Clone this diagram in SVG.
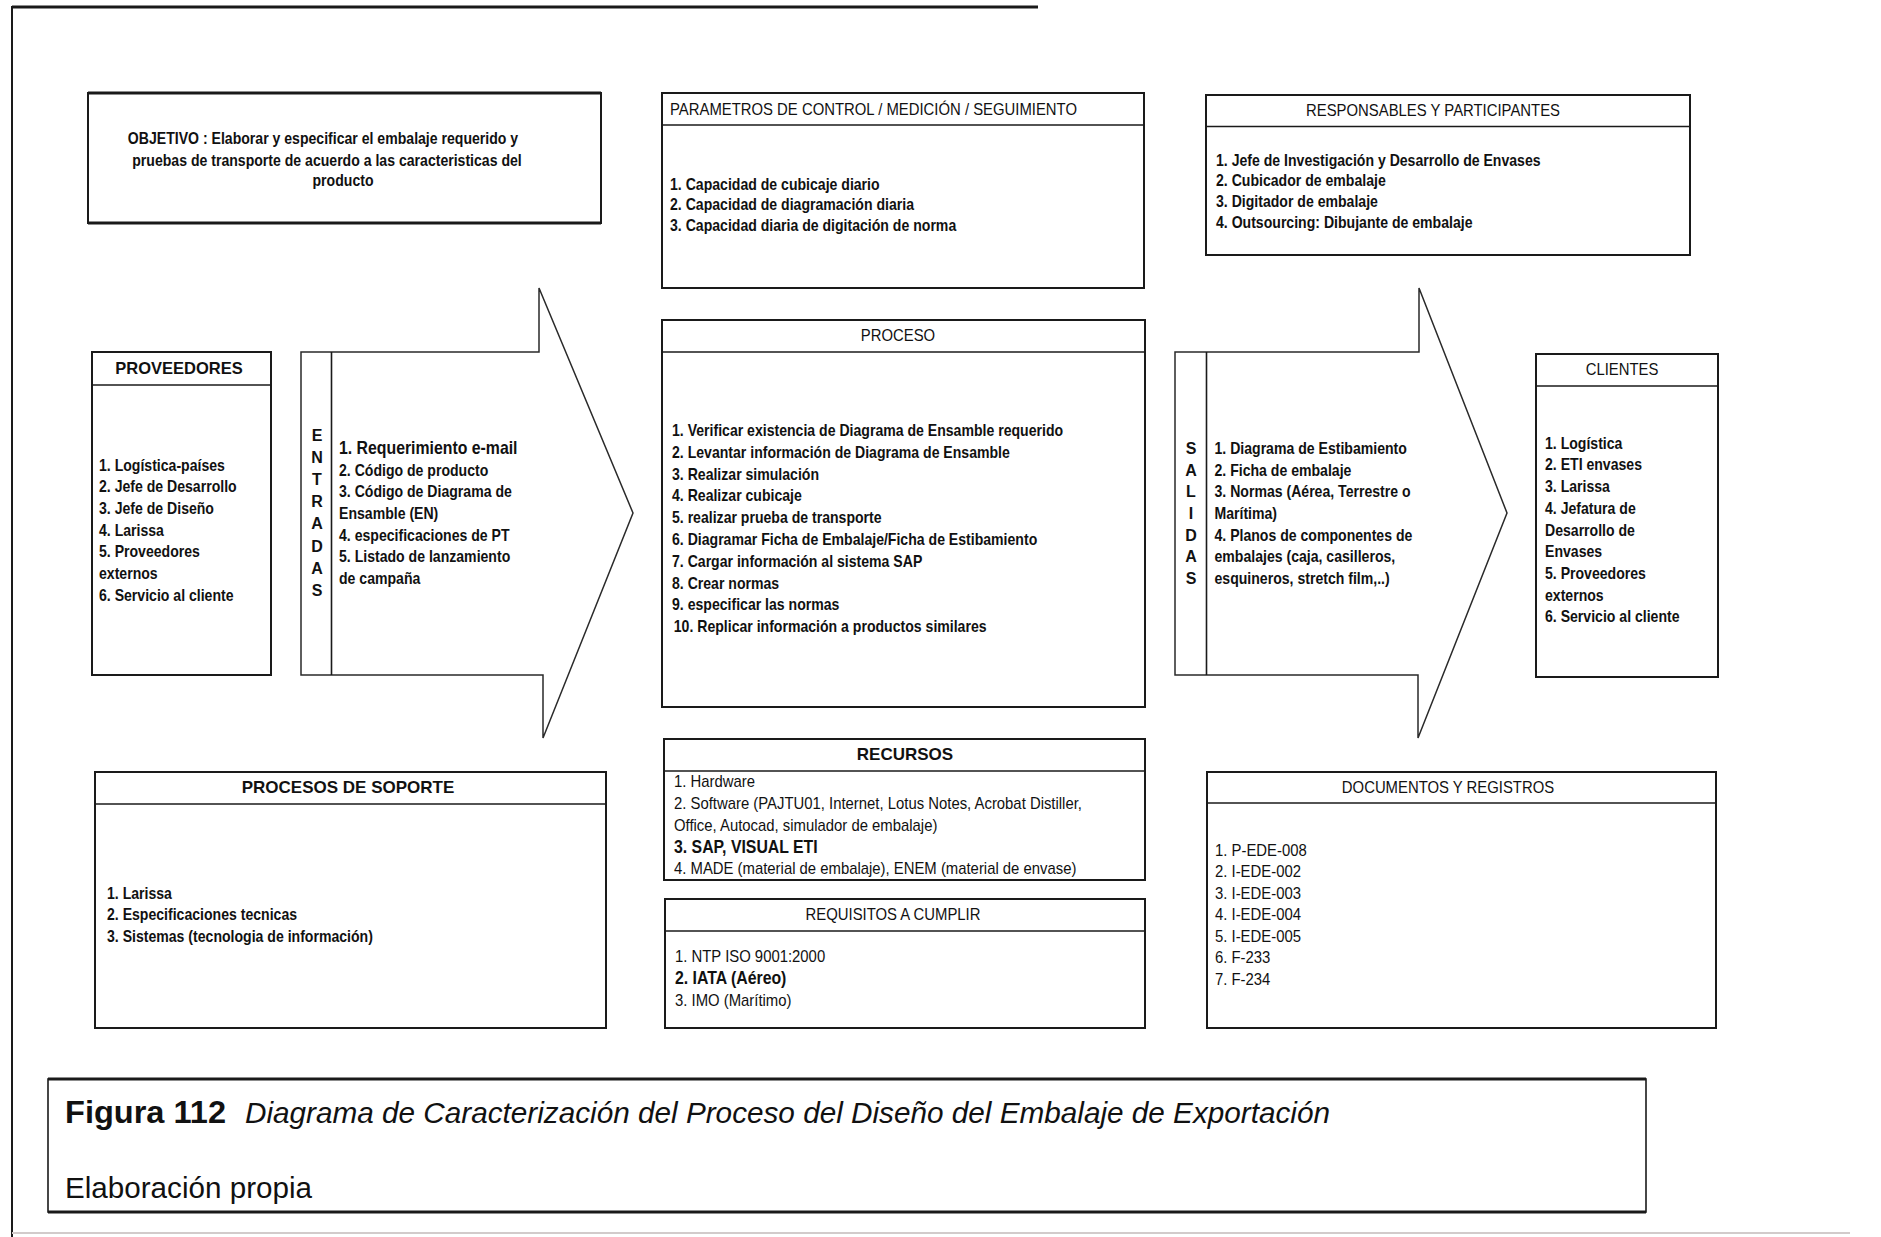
<svg xmlns="http://www.w3.org/2000/svg" width="1881" height="1237" viewBox="0 0 1881 1237">
  <style>
    .t{font-family:"Liberation Sans",Arial,sans-serif;font-size:16px;fill:#111}
    .b{font-weight:bold}
    .box{fill:#fff;stroke:#1a1a1a;stroke-width:2}
    .sep{stroke:#1a1a1a;stroke-width:1.6}
    .thick{stroke:#1a1a1a;stroke-width:3.2}
    .arr{fill:#fff;stroke:#2a2a2a;stroke-width:1.5;stroke-linejoin:miter}
    .frame{stroke:#1a1a1a;fill:none}
  </style>
  <rect width="1881" height="1237" fill="#fff"/>

  <!-- page frame -->
  <g id="frame">
    <line class="frame" x1="12" y1="7" x2="1038" y2="7" stroke-width="3.2"/>
    <line class="frame" x1="12" y1="6" x2="12" y2="1237" stroke-width="2"/>
    <line x1="12" y1="1233" x2="1850" y2="1233" stroke="#d2cbcb" stroke-width="2"/>
  </g>

  <!-- block arrows for inputs and outputs -->
  <g id="connectors">
    <polygon class="arr" points="301,352 539,352 539,288 633,513 543,738 543,675 301,675"/>
    <polygon class="arr" points="1175,352 1419,352 1419,288 1507,513 1418,738 1418,675 1175,675"/>
  </g>

  <g id="objetivo">
    <rect class="box" x="88" y="93" width="513" height="130"/>
    <line class="thick" x1="88" y1="93" x2="601" y2="93"/>
    <line class="thick" x1="88" y1="223" x2="601" y2="223"/>
    <text class="t b" text-anchor="middle" transform="translate(323 143.5) scale(.88 1)">OBJETIVO  : Elaborar y especificar el embalaje requerido y</text>
    <text class="t b" text-anchor="middle" transform="translate(327 165.5) scale(.88 1)">pruebas de transporte de acuerdo a las caracteristicas del</text>
    <text class="t b" text-anchor="middle" transform="translate(343 186) scale(.88 1)">producto</text>
  </g>

  <g id="parametros">
    <rect class="box" x="662" y="93" width="482" height="195"/>
    <line class="sep" x1="662" y1="125" x2="1144" y2="125"/>
    <text class="t" transform="translate(670 115) scale(.93 1)">PARAMETROS DE CONTROL / MEDICIÓN / SEGUIMIENTO</text>
    <text class="t b" transform="translate(670 189.5) scale(.88 1)"><tspan x="0">1. Capacidad de cubicaje diario</tspan><tspan x="0" dy="21">2. Capacidad de diagramación diaria</tspan><tspan x="0" dy="21">3. Capacidad diaria de digitación de norma</tspan></text>
  </g>

  <g id="responsables">
    <rect class="box" x="1206" y="95" width="484" height="160"/>
    <line class="sep" x1="1206" y1="126.5" x2="1690" y2="126.5"/>
    <text class="t" text-anchor="middle" transform="translate(1433 116) scale(.93 1)">RESPONSABLES Y PARTICIPANTES</text>
    <text class="t b" transform="translate(1216 165.5) scale(.88 1)"><tspan x="0">1. Jefe de Investigación y Desarrollo de Envases</tspan><tspan x="0" dy="21">2. Cubicador de embalaje</tspan><tspan x="0" dy="21">3. Digitador de embalaje</tspan><tspan x="0" dy="21">4. Outsourcing: Dibujante de embalaje</tspan></text>
  </g>

  <g id="proveedores">
    <rect class="box" x="92" y="352" width="179" height="323"/>
    <line class="sep" x1="92" y1="385" x2="271" y2="385"/>
    <text class="t b" text-anchor="middle" style="font-size:16.5px" x="179" y="374">PROVEEDORES</text>
    <text class="t b" transform="translate(99 470.5) scale(.88 1)"><tspan x="0">1. Logística-países</tspan><tspan x="0" dy="21.7">2. Jefe de Desarrollo</tspan><tspan x="0" dy="21.7">3. Jefe de Diseño</tspan><tspan x="0" dy="21.7">4. Larissa</tspan><tspan x="0" dy="21.7">5. Proveedores</tspan><tspan x="0" dy="21.7">externos</tspan><tspan x="0" dy="21.7">6. Servicio al cliente</tspan></text>
  </g>

  <g id="entradas">
    <line class="sep" x1="331.5" y1="352" x2="331.5" y2="675" stroke-width="1.5"/>
    <text class="t b" text-anchor="middle" x="317" y="441"><tspan x="317">E</tspan><tspan x="317" dy="22.1">N</tspan><tspan x="317" dy="22.1">T</tspan><tspan x="317" dy="22.1">R</tspan><tspan x="317" dy="22.1">A</tspan><tspan x="317" dy="22.1">D</tspan><tspan x="317" dy="22.1">A</tspan><tspan x="317" dy="22.1">S</tspan></text>
    <text class="t b" transform="translate(339 454) scale(.88 1)"><tspan x="0" style="font-size:18px">1. Requerimiento e-mail</tspan><tspan x="0" dy="21.7">2. Código de producto</tspan><tspan x="0" dy="21.7">3. Código de Diagrama de</tspan><tspan x="0" dy="21.7">Ensamble (EN)</tspan><tspan x="0" dy="21.7">4. especificaciones de PT</tspan><tspan x="0" dy="21.7">5. Listado de lanzamiento</tspan><tspan x="0" dy="21.7">de campaña</tspan></text>
  </g>

  <g id="proceso">
    <rect class="box" x="662" y="320" width="483" height="387"/>
    <line class="sep" x1="662" y1="352" x2="1145" y2="352"/>
    <text class="t" text-anchor="middle" transform="translate(898 341) scale(.93 1)">PROCESO</text>
    <text class="t b" transform="translate(672 436) scale(.88 1)"><tspan x="0">1. Verificar existencia de Diagrama de Ensamble requerido</tspan><tspan x="0" dy="21.8">2. Levantar información de Diagrama de Ensamble</tspan><tspan x="0" dy="21.8">3. Realizar simulación</tspan><tspan x="0" dy="21.8">4. Realizar cubicaje</tspan><tspan x="0" dy="21.8">5. realizar prueba de transporte</tspan><tspan x="0" dy="21.8">6. Diagramar Ficha de Embalaje/Ficha de Estibamiento</tspan><tspan x="0" dy="21.8">7. Cargar información al sistema SAP</tspan><tspan x="0" dy="21.8">8. Crear normas</tspan><tspan x="0" dy="21.8">9. especificar las normas</tspan><tspan x="2" dy="21.8">10. Replicar información a productos similares</tspan></text>
  </g>

  <g id="salidas">
    <line class="sep" x1="1206.5" y1="352" x2="1206.5" y2="675" stroke-width="1.5"/>
    <text class="t b" text-anchor="middle" x="1191" y="454"><tspan x="1191">S</tspan><tspan x="1191" dy="21.67">A</tspan><tspan x="1191" dy="21.67">L</tspan><tspan x="1191" dy="21.67">I</tspan><tspan x="1191" dy="21.67">D</tspan><tspan x="1191" dy="21.67">A</tspan><tspan x="1191" dy="21.67">S</tspan></text>
    <text class="t b" transform="translate(1214.5 454) scale(.88 1)"><tspan x="0">1. Diagrama de Estibamiento</tspan><tspan x="0" dy="21.67">2. Ficha de embalaje</tspan><tspan x="0" dy="21.67">3. Normas (Aérea, Terrestre o</tspan><tspan x="0" dy="21.67">Marítima)</tspan><tspan x="0" dy="21.67">4. Planos de componentes de</tspan><tspan x="0" dy="21.67">embalajes (caja, casilleros,</tspan><tspan x="0" dy="21.67">esquineros, stretch film,..)</tspan></text>
  </g>

  <g id="clientes">
    <rect class="box" x="1536" y="354" width="182" height="323"/>
    <line class="sep" x1="1536" y1="386" x2="1718" y2="386"/>
    <text class="t" text-anchor="middle" transform="translate(1622 375) scale(.93 1)">CLIENTES</text>
    <text class="t b" transform="translate(1545 448.8) scale(.88 1)"><tspan x="0">1. Logística</tspan><tspan x="0" dy="21.7">2. ETI envases</tspan><tspan x="0" dy="21.7">3. Larissa</tspan><tspan x="0" dy="21.7">4. Jefatura de</tspan><tspan x="0" dy="21.7">Desarrollo de</tspan><tspan x="0" dy="21.7">Envases</tspan><tspan x="0" dy="21.7">5. Proveedores</tspan><tspan x="0" dy="21.7">externos</tspan><tspan x="0" dy="21.7">6. Servicio al cliente</tspan></text>
  </g>

  <g id="soporte">
    <rect class="box" x="95" y="772" width="511" height="256"/>
    <line class="sep" x1="95" y1="804" x2="606" y2="804"/>
    <text class="t b" text-anchor="middle" style="font-size:17px" x="348" y="793">PROCESOS DE SOPORTE</text>
    <text class="t b" transform="translate(107 899) scale(.88 1)"><tspan x="0">1. Larissa</tspan><tspan x="0" dy="21.5">2. Especificaciones tecnicas</tspan><tspan x="0" dy="21.5">3. Sistemas (tecnologia de información)</tspan></text>
  </g>

  <g id="recursos">
    <rect class="box" x="664" y="739" width="481" height="141"/>
    <line class="sep" x1="664" y1="771" x2="1145" y2="771"/>
    <text class="t b" text-anchor="middle" style="font-size:17px" x="905" y="760">RECURSOS</text>
    <text class="t" transform="translate(674 787) scale(.93 1)"><tspan x="0">1. Hardware</tspan><tspan x="0" dy="22.3">2. Software (PAJTU01, Internet, Lotus Notes, Acrobat Distiller,</tspan><tspan x="0" dy="22">Office, Autocad, simulador de embalaje)</tspan></text>
    <text class="t b" style="font-size:18px" transform="translate(674 853) scale(.88 1)">3. SAP, VISUAL ETI</text>
    <text class="t" transform="translate(674 874) scale(.93 1)">4. MADE (material de embalaje), ENEM (material de envase)</text>
  </g>

  <g id="requisitos">
    <rect class="box" x="665" y="899" width="480" height="129"/>
    <line class="sep" x1="665" y1="931" x2="1145" y2="931"/>
    <text class="t" text-anchor="middle" transform="translate(893 920) scale(.93 1)">REQUISITOS A CUMPLIR</text>
    <text class="t" transform="translate(675 962) scale(.93 1)">1. NTP ISO 9001:2000</text>
    <text class="t b" style="font-size:18px" transform="translate(675 984) scale(.88 1)">2. IATA (Aéreo)</text>
    <text class="t" transform="translate(675 1006) scale(.93 1)">3. IMO (Marítimo)</text>
  </g>

  <g id="documentos">
    <rect class="box" x="1207" y="772" width="509" height="256"/>
    <line class="sep" x1="1207" y1="803" x2="1716" y2="803"/>
    <text class="t" text-anchor="middle" transform="translate(1448 793) scale(.93 1)">DOCUMENTOS Y REGISTROS</text>
    <text class="t" transform="translate(1215 856) scale(.93 1)"><tspan x="0">1. P-EDE-008</tspan><tspan x="0" dy="21.5">2. I-EDE-002</tspan><tspan x="0" dy="21.5">3. I-EDE-003</tspan><tspan x="0" dy="21.5">4. I-EDE-004</tspan><tspan x="0" dy="21.5">5. I-EDE-005</tspan><tspan x="0" dy="21.5">6. F-233</tspan><tspan x="0" dy="21.5">7. F-234</tspan></text>
  </g>

  <g id="caption">
    <rect x="48" y="1079" width="1598" height="133" fill="#fff" stroke="#1a1a1a" stroke-width="1.6"/>
    <line class="thick" x1="48" y1="1079" x2="1646" y2="1079"/>
    <line class="thick" x1="48" y1="1212" x2="1646" y2="1212"/>
    <text class="t b" style="font-size:31px" x="65" y="1123" textLength="161" lengthAdjust="spacingAndGlyphs">Figura 112</text>
    <text class="t" style="font-size:30px;font-style:italic" x="245" y="1123" textLength="1085" lengthAdjust="spacingAndGlyphs">Diagrama de Caracterización del Proceso del Diseño del Embalaje de Exportación</text>
    <text class="t" style="font-size:30px" x="65" y="1198" textLength="247" lengthAdjust="spacingAndGlyphs">Elaboración propia</text>
  </g>
</svg>
